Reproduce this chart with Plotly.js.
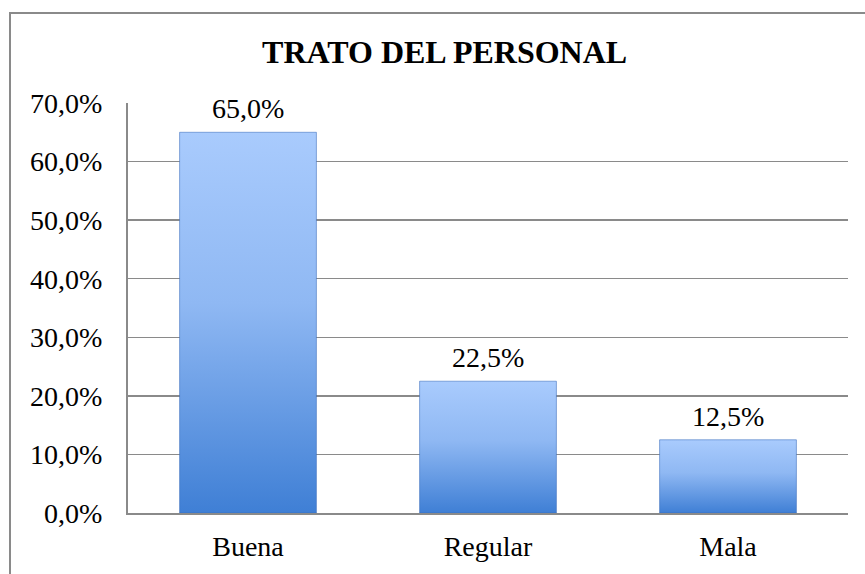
<!DOCTYPE html>
<html>
<head>
<meta charset="utf-8">
<script src="https://cdn.plot.ly/plotly-3.0.1.min.js"></script>
<style>
  html, body { margin: 0; padding: 0; background: #fff; }
  #wrap { position: relative; width: 865px; height: 574px; overflow: hidden; }
  #chart { width: 865px; height: 574px; }
  #frame { position: absolute; left: 9px; top: 12px; width: 900px; height: 600px;
           border: 2px solid #8a8a8a; pointer-events: none; box-sizing: border-box; }
</style>
</head>
<body>
<div id="wrap">
  <div id="chart"></div>
  <div id="frame"></div>
</div>
<script>
const categories = ["Buena", "Regular", "Mala"];
const values = [65.0, 22.5, 12.5];
const tickValues = [0, 10, 20, 30, 40, 50, 60, 70];
const chartTitle = "TRATO DEL PERSONAL";

const fmt = v => v.toFixed(1).replace(".", ",") + "%";
const serif = "Liberation Serif";

const trace = {
  type: "bar",
  x: categories,
  y: values,
  marker: { color: "#8db6f2", line: { color: "rgba(55,105,185,0.55)", width: 1 } },
  hoverinfo: "skip"
};

const annotations = categories.map((c, i) => ({
  x: c, y: values[i], xref: "x", yref: "y",
  text: fmt(values[i]),
  showarrow: false, yanchor: "bottom", yshift: 6,
  font: { family: serif, size: 28, color: "#000" }
}));

const layout = {
  width: 865, height: 574,
  margin: { l: 128, r: 17, t: 103, b: 61 },
  paper_bgcolor: "#fff", plot_bgcolor: "#fff",
  showlegend: false,
  bargap: 0.43,
  title: {
    text: "<b>" + chartTitle + "</b>",
    font: { family: serif, size: 32, color: "#000" },
    xref: "container", yref: "container", x: 0.514, y: 0.91, xanchor: "center", yanchor: "middle"
  },
  xaxis: {
    type: "category",
    showline: true, linecolor: "#8a8a8a", linewidth: 2,
    ticks: "", showgrid: false,
    ticklabelstandoff: 7,
    tickfont: { family: serif, size: 28, color: "#000" }
  },
  yaxis: {
    range: [0, 70],
    tickmode: "array",
    tickvals: tickValues,
    ticktext: tickValues.map(fmt),
    showline: true, linecolor: "#8a8a8a", linewidth: 2,
    gridcolor: "#8a8a8a", gridwidth: 1.5,
    zeroline: false,
    ticks: "",
    ticklabelstandoff: 18,
    tickfont: { family: serif, size: 28, color: "#000" }
  },
  annotations: annotations
};

Plotly.newPlot("chart", [trace], layout, { staticPlot: true, displayModeBar: false }).then(gd => {
  const svg = gd.querySelector(".main-svg");
  const ns = "http://www.w3.org/2000/svg";
  let defs = svg.querySelector("defs");
  if (!defs) { defs = document.createElementNS(ns, "defs"); svg.insertBefore(defs, svg.firstChild); }
  const grad = document.createElementNS(ns, "linearGradient");
  grad.setAttribute("id", "barGrad");
  grad.setAttribute("x1", "0"); grad.setAttribute("y1", "0");
  grad.setAttribute("x2", "0"); grad.setAttribute("y2", "1");
  [["0", "#a9cbfd"], ["0.45", "#8fb8f3"], ["1", "#3f7fd5"]].forEach(([o, c]) => {
    const s = document.createElementNS(ns, "stop");
    s.setAttribute("offset", o); s.setAttribute("stop-color", c);
    grad.appendChild(s);
  });
  defs.appendChild(grad);
  gd.querySelectorAll(".barlayer .point path").forEach(p => { p.style.fill = "url(#barGrad)"; });
});
</script>
</body>
</html>
